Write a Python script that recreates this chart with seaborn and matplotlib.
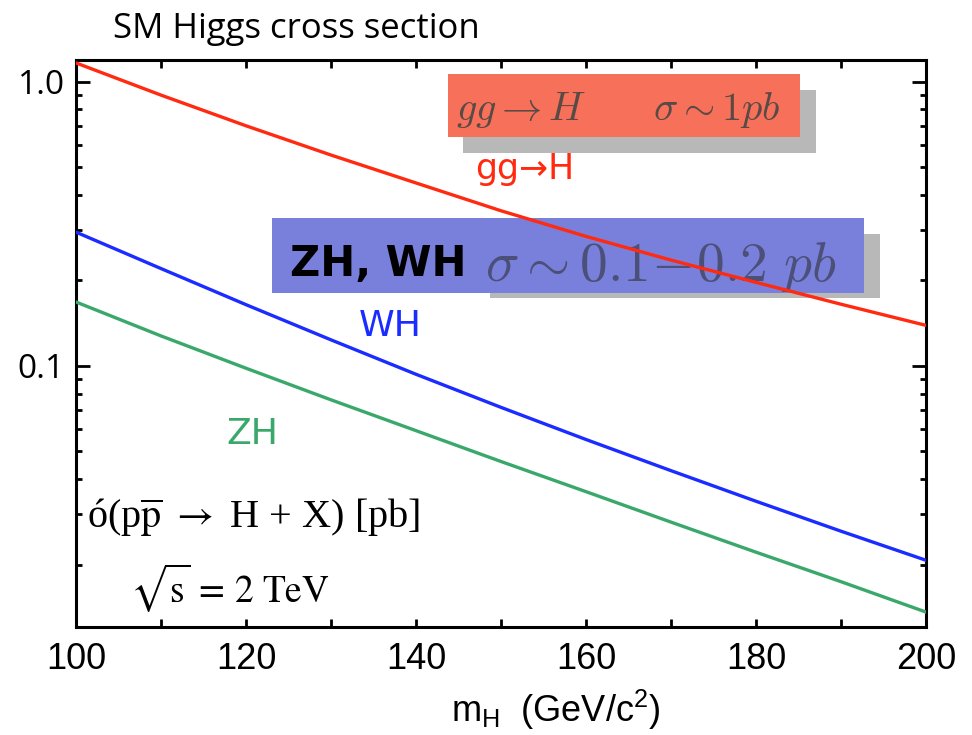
import matplotlib
matplotlib.use("Agg")
import matplotlib.pyplot as plt
import matplotlib.patches as patches
from matplotlib.ticker import FixedLocator, MultipleLocator, NullFormatter, LogLocator
import numpy as np
import pandas as pd
import seaborn as sns

# Higgs mass (GeV/c^2) and cross sections (pb)
mass = [100, 110, 120, 130, 140, 150, 160, 170, 180, 190, 200]
gg_h = [1.167, 0.899, 0.701, 0.553, 0.441, 0.352, 0.286, 0.236, 0.197, 0.165, 0.139]
wh = [0.296, 0.2203, 0.1644, 0.1236, 0.0935, 0.0715, 0.0551, 0.0428, 0.0334, 0.0262, 0.0207]
zh = [0.168, 0.1276, 0.0982, 0.0760, 0.0592, 0.0461, 0.0361, 0.0282, 0.0221, 0.0174, 0.0136]

processes = ["gg->H", "WH", "ZH"]
colors = {"gg->H": "#ff2a10", "WH": "#1a2cff", "ZH": "#3aa86a"}

x_ticks = [100, 120, 140, 160, 180, 200]
y_ticks = [0.1, 1.0]
y_tick_labels = ["0.1", "1.0"]

df = pd.DataFrame({
    "mass": mass * 3,
    "sigma": gg_h + wh + zh,
    "process": [p for p in processes for _ in mass],
})

sns.set_style("ticks")
plt.rcParams["font.family"] = ["Open Sans", "DejaVu Sans"]
plt.rcParams["text.color"] = "black"
plt.rcParams["mathtext.fontset"] = "custom"
plt.rcParams["mathtext.rm"] = "Liberation Sans"
plt.rcParams["mathtext.it"] = "Liberation Sans:italic"

W, H = 972, 735
fig = plt.figure(figsize=(W / 100, H / 100), dpi=100)
# axes box in pixels: x 76..926, y 60..627
AX_L, AX_R, AX_T, AX_B = 76, 926, 60, 627
ax = fig.add_axes([AX_L / W, 1 - AX_B / H, (AX_R - AX_L) / W, (AX_B - AX_T) / H])


def ax_xy(px, py):
    # pixel -> axes fraction
    return (px - AX_L) / (AX_R - AX_L), (AX_B - py) / (AX_B - AX_T)


def box(px0, py0, px1, py1, color, z):
    x0, y0 = ax_xy(px0, py1)
    x1, y1 = ax_xy(px1, py0)
    ax.add_patch(patches.Rectangle((x0, y0), x1 - x0, y1 - y0, transform=ax.transAxes,
                                   facecolor=color, edgecolor="none", zorder=z, clip_on=False))


sns.lineplot(data=df, x="mass", y="sigma", hue="process", palette=colors,
             linewidth=2.4, legend=False, ax=ax, zorder=3)

ax.set_yscale("log")
ax.set_xlim(100, 200)
ax.set_ylim(0.01205, 1.195)

ax.xaxis.set_major_locator(FixedLocator(x_ticks))
ax.xaxis.set_minor_locator(MultipleLocator(10))
ax.yaxis.set_major_locator(FixedLocator(y_ticks))
ax.yaxis.set_minor_locator(LogLocator(base=10, subs=np.arange(2, 10)))
ax.yaxis.set_minor_formatter(NullFormatter())
ax.set_yticklabels(y_tick_labels)

ax.tick_params(which="both", direction="in", top=True, right=True, width=2,
               color="black", labelcolor="black")
ax.tick_params(axis="y", which="major", length=10, pad=8, labelsize=24)
ax.tick_params(axis="y", which="minor", length=4.5)
ax.tick_params(axis="x", which="both", length=6)
ax.tick_params(axis="x", which="major", pad=11, labelsize=26)
for lab in ax.get_xticklabels():
    lab.set_fontfamily(["Liberation Sans", "DejaVu Sans"])

for s in ax.spines.values():
    s.set_linewidth(2.2)
    s.set_color("black")

ax.set_xlabel("")
ax.set_ylabel("")

# title and x label
fig.text(113 / W, 1 - 38 / H, "SM Higgs cross section", fontsize=25, ha="left",
         va="baseline", color="black")
fig.text(556 / W, 1 - 710 / H, r"m$_{\mathrm{H}}$  (GeV/c$^{2}$)", fontsize=26,
         ha="center", va="center", family=["Liberation Sans", "DejaVu Sans"], color="black")

# red highlighted box with grey shadow
box(463, 90, 816, 153, "#b8b8b8", 1)
box(448, 74, 800, 137, "#f6705a", 1.2)
tx, ty = ax_xy(456, 120)
ax.text(tx, ty, r"$gg \rightarrow H \quad\quad \sigma \sim 1 pb$", transform=ax.transAxes,
        fontsize=29, math_fontfamily="cm", color="#5a4a46", ha="left", va="baseline", zorder=1.5)

# blue highlighted box with grey shadow
box(490, 234, 880, 298, "#b8b8b8", 1)
box(272, 218, 864, 293, "#7880dc", 1.2)
tx, ty = ax_xy(290, 276)
ax.text(tx, ty, "ZH, WH", transform=ax.transAxes, fontsize=30, fontweight="bold",
        family=["DejaVu Sans"], color="black", ha="left", va="baseline", zorder=1.5)
tx, ty = ax_xy(485, 281)
ax.text(tx, ty, r"$\sigma \sim 0.1\!-\!0.2\ pb$", transform=ax.transAxes,
        fontsize=40, math_fontfamily="cm", color="#4c5078", ha="left", va="baseline", zorder=1.5)

# curve labels
tx, ty = ax_xy(525, 169)
ax.text(tx, ty, "gg\u2192H", transform=ax.transAxes, fontsize=25, color="#ff2a10",
        ha="center", va="center", family=["DejaVu Sans"])
tx, ty = ax_xy(390, 326)
ax.text(tx, ty, "WH", transform=ax.transAxes, fontsize=26, color="#1a2cff",
        ha="center", va="center", family=["DejaVu Sans"])
tx, ty = ax_xy(252, 434)
ax.text(tx, ty, "ZH", transform=ax.transAxes, fontsize=26, color="#3aa86a",
        ha="center", va="center", family=["DejaVu Sans"])

# process and energy annotations
tx, ty = ax_xy(87, 528)
ax.text(tx, ty, r"ó(p$\overline{\mathrm{p}}$ $\rightarrow$ H + X) [pb]", transform=ax.transAxes,
        fontsize=29, family=["Liberation Serif", "DejaVu Serif"], math_fontfamily="stix",
        ha="left", va="baseline", color="black")
tx, ty = ax_xy(130, 602)
ax.text(tx, ty, r"$\sqrt{\mathrm{s}}\, =\, 2\ \mathrm{TeV}$", transform=ax.transAxes,
        fontsize=27, math_fontfamily="stix", ha="left", va="baseline", color="black")

fig.savefig("out.png", dpi=100)
print("saved out.png")
